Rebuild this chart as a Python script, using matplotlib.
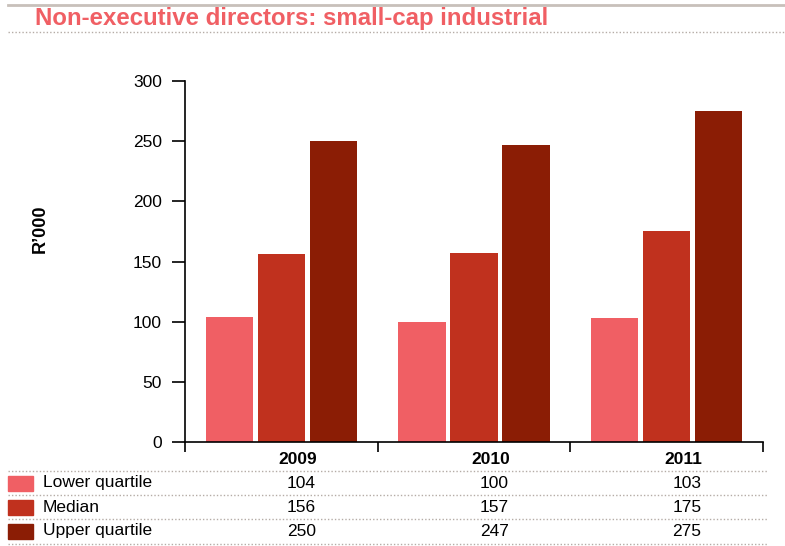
import matplotlib.pyplot as plt
import matplotlib.transforms as mtransforms
from matplotlib import font_manager
import numpy as np

years = ["2009", "2010", "2011"]
series = ["Lower quartile", "Median", "Upper quartile"]
lower_quartile = [104, 100, 103]
median = [156, 157, 175]
upper_quartile = [250, 247, 275]
colors = ["#f05f64", "#c0311e", "#8b1d05"]

names = {f.name for f in font_manager.fontManager.ttflist}
narrow = "Liberation Sans Narrow" if "Liberation Sans Narrow" in names else "Liberation Sans"
plt.rcParams["font.family"] = ["Liberation Sans", "DejaVu Sans"]

W, H = 785, 546
fig = plt.figure(figsize=(W / 100, H / 100), dpi=100)
ax = fig.add_axes([185 / W, 1 - 442 / H, (763 - 185) / W, (442 - 81) / H])

x = np.arange(len(years))
width = 0.245
offsets = [-0.27, 0, 0.27]
values = [lower_quartile, median, upper_quartile]
for vals, off, col in zip(values, offsets, colors):
    ax.bar(x + off, vals, width=width, color=col, zorder=2)

ax.set_xlim(-0.5, len(years) - 0.5)
ax.set_ylim(0, 300)
ax.set_yticks(range(0, 301, 50))
ax.set_xticks(np.arange(len(years) + 1) - 0.5)
ax.set_xticklabels([])
ax.spines["top"].set_visible(False)
ax.spines["right"].set_visible(False)
for s in ("left", "bottom"):
    ax.spines[s].set_linewidth(1.2)
ax.tick_params(axis="y", direction="out", length=9.5, width=1.2, pad=7, labelsize=12.5)
ax.tick_params(axis="x", direction="out", length=7, width=1.2)
ax.set_ylabel("R’000", fontsize=13, fontweight="bold")
ax.yaxis.set_label_coords(-136 / (763 - 185), 0.59)

# year labels and table of values under the axis
tr = mtransforms.blended_transform_factory(ax.transData, fig.transFigure)
for i, yr in enumerate(years):
    fig.text(i + 0.085, 1 - 459 / H, yr, transform=tr, ha="center", va="center",
             fontsize=12.5, fontweight="bold")

row_y = [483, 507, 531]
for vals, name, col, ry in zip(values, series, colors, row_y):
    fig.patches.append(plt.Rectangle((8 / W, 1 - (ry + 7.5) / H), 25 / W, 15 / H,
                                     transform=fig.transFigure, color=col))
    fig.text(43 / W, 1 - ry / H, name, ha="left", va="center", fontsize=12.5)
    for i, v in enumerate(vals):
        fig.text(i + 0.105, 1 - ry / H, str(v), transform=tr, ha="center",
                 va="center", fontsize=12.5)

for ly in [471, 495, 519, 544]:
    fig.add_artist(plt.Line2D([8 / W, 768 / W], [1 - ly / H] * 2, color="#b5aca6",
                              lw=1, ls=(0, (1, 1.5))))

# title block
fig.add_artist(plt.Line2D([8 / W, 1], [1 - 5 / H] * 2, color="#c8c0ba", lw=2))
fig.add_artist(plt.Line2D([8 / W, 1], [1 - 32 / H] * 2, color="#b5aca6",
                          lw=1, ls=(0, (1, 1.5))))
fig.text(35 / W, 1 - 18 / H, "Non-executive directors: small-cap industrial",
         ha="left", va="center", fontsize=17.3, fontweight="bold",
         color="#f05f64", family=narrow)

fig.savefig("out.png", dpi=100)
